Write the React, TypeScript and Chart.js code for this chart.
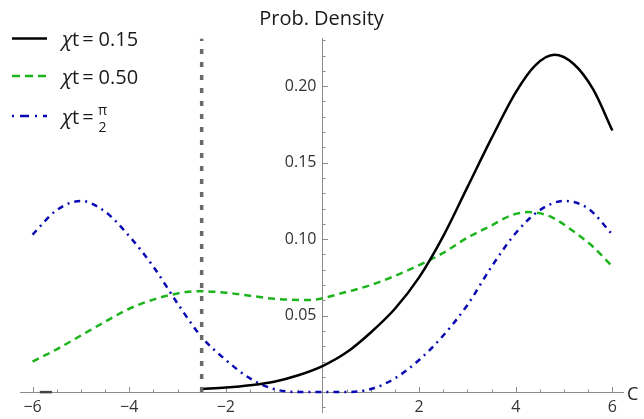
import React, { useEffect, useRef } from 'react';
import { Chart, registerables } from 'chart.js';

Chart.register(...registerables);

// ---- data ----
const blackX = [-2.5, -2, -1.5, -1, -0.5, 0, 0.5, 1, 1.5, 2, 2.5, 3, 3.5, 4, 4.4, 4.8, 5.2, 5.6, 6];
const blackY = [0.002, 0.003, 0.0045, 0.0068, 0.011, 0.017, 0.026, 0.039, 0.0545, 0.075, 0.102, 0.134, 0.166, 0.196, 0.2135, 0.2205, 0.2145, 0.198, 0.171];
const greenX = [-6, -5.5, -5, -4.5, -4, -3.5, -3, -2.6, -2, -1.5, -1, -0.3, 0.5, 1, 1.5, 2, 2.5, 3, 3.5, 3.9, 4.25, 4.7, 5.2, 5.6, 6];
const greenY = [0.020, 0.028, 0.037, 0.046, 0.0545, 0.0605, 0.0645, 0.066, 0.065, 0.063, 0.061, 0.0602, 0.0655, 0.070, 0.076, 0.083, 0.091, 0.101, 0.109, 0.1155, 0.1177, 0.1150, 0.105, 0.095, 0.082];
const blueX = [-6, -5.5, -5, -4.5, -4, -3.5, -3, -2.5, -2, -1.5, -1, -0.5, 0, 0.5, 1, 1.5, 2, 2.5, 3, 3.5, 4, 4.5, 5, 5.5, 6];
const blueY = [0.103, 0.119, 0.125, 0.118, 0.102, 0.082, 0.058, 0.036, 0.021, 0.009, 0.002, 0.0, 0.0, 0.0, 0.002, 0.009, 0.021, 0.037, 0.057, 0.082, 0.104, 0.119, 0.125, 0.120, 0.103];
const stubX = [-5.85, -5.6];
const stubY = [0, 0];
const wallX = -2.5;
const wallTop = 0.231;

const xTickValues = [-6, -4, -2, 2, 4, 6];
const yTickValues = [0.05, 0.1, 0.15, 0.2];
const legendValues = ['0.15', '0.50', 'π/2'];
const titleText = 'Prob. Density';
const xAxisLabel = 'C';

const X_MIN = -6.26, X_MAX = 6.22, Y_MIN = -0.013, Y_MAX = 0.2315;

const BLACK = '#000000';
const GREEN = '#1cb41c';
const BLUE = '#0a0ab4';
const WALL = '#6a6a6a';
const AXIS = '#8c8c8c';
const FONT = '"Open Sans", "DejaVu Sans", sans-serif';

const pts = (xa: number[], ya: number[]) => xa.map((x, i) => ({ x, y: ya[i] }));

const decor = {
  id: 'decor',
  beforeDraw(chart: any) {
    // shift the y tick labels left of the axis (object-positioned axes ignore padding)
    const sy = chart.scales.y;
    const items = sy.getLabelItems();
    if (items && !(items as any).__shifted) {
      items.forEach((it: any) => { it.options.translation[0] -= 6; });
      (items as any).__shifted = true;
    }
  },
  beforeDatasetsDraw(chart: any) {
    const { ctx, scales } = chart;
    const sx = scales.x, sy = scales.y;
    const x0 = Math.round(sx.getPixelForValue(0)) + 0.5;
    const y0 = Math.round(sy.getPixelForValue(0)) + 0.5;
    ctx.save();
    ctx.strokeStyle = AXIS;
    ctx.lineWidth = 1;
    ctx.beginPath();
    for (let k = -12; k <= 12; k++) {
      if (k === 0) continue;
      const v = k * 0.5;
      const px = Math.round(sx.getPixelForValue(v)) + 0.5;
      const len = k % 4 === 0 ? 5.5 : 3;
      ctx.moveTo(px, y0);
      ctx.lineTo(px, y0 - len);
    }
    for (let k = -1; k <= 23; k++) {
      if (k === 0) continue;
      const v = k * 0.01;
      const py = Math.round(sy.getPixelForValue(v)) + 0.5;
      const len = k % 5 === 0 ? 5.5 : 3;
      ctx.moveTo(x0, py);
      ctx.lineTo(x0 + len, py);
    }
    ctx.stroke();
    ctx.restore();
  },
  afterDraw(chart: any) {
    const { ctx } = chart;
    ctx.save();
    // axis label
    ctx.fillStyle = '#222';
    ctx.font = `18px ${FONT}`;
    ctx.textBaseline = 'alphabetic';
    ctx.textAlign = 'left';
    ctx.fillText(xAxisLabel, 627, 400);

    // legend
    const rows = [
      { color: BLACK, dash: [] as number[], y: 38.5 },
      { color: GREEN, dash: [8, 5], y: 76 },
      { color: BLUE, dash: [2, 6, 9, 6], y: 116 },
    ];
    rows.forEach((r, i) => {
      ctx.save();
      ctx.strokeStyle = r.color;
      ctx.lineWidth = 2.5;
      ctx.setLineDash(r.dash);
      ctx.beginPath();
      ctx.moveTo(12, r.y);
      ctx.lineTo(47, r.y);
      ctx.stroke();
      ctx.restore();
      const base = r.y + 7.5;
      let x = 62;
      ctx.fillStyle = '#1a1a1a';
      ctx.font = `italic 20px ${FONT}`;
      ctx.fillText('χ', x, base);
      x += ctx.measureText('χ').width;
      ctx.font = `20px ${FONT}`;
      ctx.fillText('t', x, base);
      x += ctx.measureText('t').width + 3;
      ctx.fillText('=', x, base);
      x += ctx.measureText('=').width + 5;
      const val = legendValues[i];
      if (val.includes('/')) {
        const [num, den] = val.split('/');
        ctx.font = `14px ${FONT}`;
        ctx.textAlign = 'center';
        ctx.fillText(num, x + 4, r.y - 1);
        ctx.fillText(den, x + 4, r.y + 16);
        ctx.textAlign = 'left';
      } else {
        ctx.fillText(val, x, base);
      }
    });
    ctx.restore();
  },
};

export default function App() {
  const ref = useRef<HTMLCanvasElement | null>(null);
  useEffect(() => {
    if (!ref.current) return;
    const chart = new Chart(ref.current, {
      type: 'scatter',
      data: {
        datasets: [
          {
            data: [{ x: wallX, y: 0 }, { x: wallX, y: wallTop }],
            showLine: true, borderColor: WALL, borderWidth: 3.5, borderDash: [5, 8], pointRadius: 0,
          },
          {
            data: pts(stubX, stubY),
            showLine: true, borderColor: '#444', borderWidth: 2.5, pointRadius: 0,
          },
          {
            data: pts(blackX, blackY), showLine: true, borderColor: BLACK, borderWidth: 2.5, pointRadius: 0,
            cubicInterpolationMode: 'monotone',
          },
          {
            data: pts(blueX, blueY), showLine: true, borderColor: BLUE, borderWidth: 2.5, borderDash: [6, 5, 2, 5], pointRadius: 0,
            cubicInterpolationMode: 'monotone',
          },
          {
            data: pts(greenX, greenY), showLine: true, borderColor: GREEN, borderWidth: 2.5, borderDash: [7, 5], pointRadius: 0,
            cubicInterpolationMode: 'monotone',
          },
        ],
      } as any,
      options: {
        responsive: false,
        animation: false,
        layout: { padding: { left: 20, right: 21, top: 0, bottom: 7 } },
        plugins: {
          legend: { display: false },
          tooltip: { enabled: false },
          title: {
            display: true,
            text: titleText,
            color: '#1a1a1a',
            font: { family: FONT, size: 20, weight: 'normal' },
            padding: { top: 7, bottom: 7 },
          },
        },
        scales: {
          x: {
            type: 'linear',
            min: X_MIN,
            max: X_MAX,
            position: { y: 0 },
            grid: { display: false, drawTicks: false },
            border: { display: true, color: AXIS, width: 1 },
            afterBuildTicks: (s: any) => { s.ticks = xTickValues.map((v) => ({ value: v })); },
            afterFit: (s: any) => { s.paddingLeft = 0; s.paddingRight = 0; s.paddingTop = 0; s.paddingBottom = 0; },
            ticks: {
              autoSkip: false,
              maxRotation: 0,
              padding: 6,
              color: '#333',
              font: { family: FONT, size: 16 },
              callback: (v: any) => (v < 0 ? '\u2212' + Math.abs(v) : String(v)),
            },
          },
          y: {
            type: 'linear',
            min: Y_MIN,
            max: Y_MAX,
            position: { x: 0 },
            grid: { display: false, drawTicks: false },
            border: { display: true, color: AXIS, width: 1 },
            afterBuildTicks: (s: any) => { s.ticks = yTickValues.map((v) => ({ value: v })); },
            afterFit: (s: any) => { s.paddingLeft = 0; s.paddingRight = 0; s.paddingTop = 0; s.paddingBottom = 0; },
            ticks: {
              autoSkip: false,
              padding: 6,
              color: '#333',
              font: { family: FONT, size: 16 },
              callback: (v: any) => Number(v).toFixed(2),
            },
          },
        },
      } as any,
      plugins: [decor],
    });
    return () => chart.destroy();
  }, []);
  return (
    <div style={{ position: 'fixed', left: 0, top: 0, width: 644, height: 419, background: '#fff' }}>
      <canvas ref={ref} width={644} height={419} style={{ width: 644, height: 419 }} />
    </div>
  );
}
